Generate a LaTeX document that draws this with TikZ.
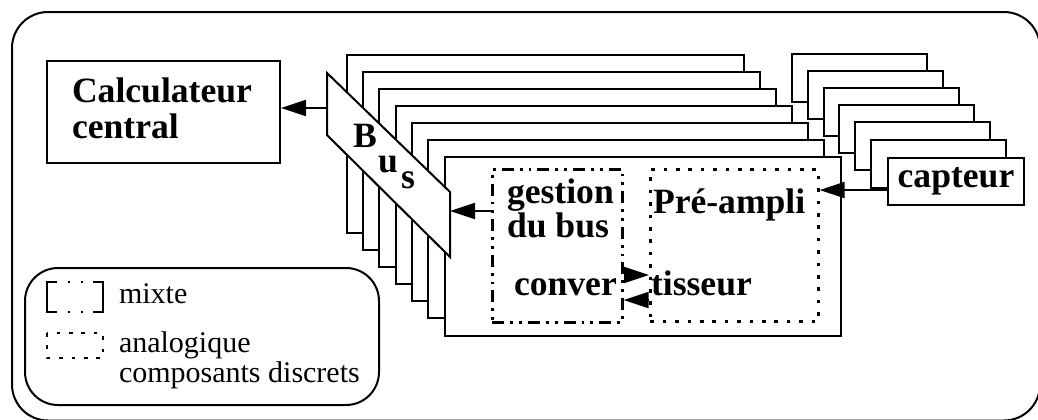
\documentclass[tikz,border=0pt]{standalone}
\usepackage{fontspec}
\setmainfont{Liberation Serif}
\usetikzlibrary{arrows.meta}
\begin{document}
\begin{tikzpicture}[x=0.5pt,y=-0.5pt,
  line width=1pt,
  box/.style={draw,fill=white,line width=1pt},
  arr/.style={-{Triangle[length=12.5pt,width=8pt]},line width=1pt},
  big/.style={font=\fontsize{17.8}{21}\selectfont\bfseries,inner sep=0pt},
  small/.style={font=\fontsize{15}{18}\selectfont,inner sep=0pt},
  mixed/.style={line width=1.3pt,dash pattern=on 6pt off 3pt on 1.4pt off 3pt on 1.4pt off 3pt},
  analog/.style={line width=1.3pt,dash pattern=on 1.8pt off 4.4pt}]

\useasboundingbox (0,0) rectangle (1038,419);

% outer frame, partly cut by the page edge
\begin{scope}
  \clip (0,0) rectangle (1038,419);
  \draw[rounded corners=18pt] (12,12) rectangle (1040,420.5);
\end{scope}

% central computer
\node[box,inner sep=0pt,anchor=north west,minimum width=116.5pt,minimum height=51pt] (calc) at (46,60) {};
\node[big,anchor=base west] (calcA) at (71,102) {Calculateur};
\node[big,anchor=base west] (calcB) at (71,138) {central};

% stack of acquisition modules
\foreach \i in {0,...,5}
  \draw[box] ({347+16.2*\i},{55+16.9*\i}) rectangle ({744+16*\i},{233+17*\i});
\node[box,inner sep=0pt,anchor=north west,minimum width=198pt,minimum height=89.5pt] (module) at (444,156) {};

% bus
\draw[box] (327,73) -- (450,192) -- (450,257) -- (327,135) -- cycle;
\node[big,anchor=base west] (busB) at (352,147) {B};
\node[big,anchor=base west] (busU) at (377,172) {u};
\node[big,anchor=base west] (busS) at (400,188) {s};
\coordinate (busL) at (327,108);
\coordinate (busR) at (450,211);

% stack of sensors
\foreach \i in {0,...,5}
  \draw[box] ({792+15.8*\i},{54+17.1*\i}) rectangle +(135,48);
\node[box,inner sep=0pt,anchor=north west,minimum width=68pt,minimum height=23.5pt,
      font=\fontsize{17.8}{21}\selectfont\bfseries] (capteur) at (887,157) {capteur};
\coordinate (capIn) at (887,190);

% mixed and analog blocks inside the front module
\node[draw,mixed,inner sep=0pt,anchor=north west,minimum width=65pt,minimum height=76.5pt] (mixte) at (491,168) {};
\node[draw,analog,inner sep=0pt,anchor=north west,minimum width=84pt,minimum height=76pt] (analog) at (649,168) {};

\node[big,anchor=base west] (gest) at (506,203) {gestion};
\node[big,anchor=base west] (dubus) at (506,237) {du bus};
\node[big,anchor=base west] (conv) at (513,295) {conver};
\node[big,anchor=base west] (tiss) at (650,295) {tisseur};
\node[big,anchor=base west] (pre) at (652,213) {Pré-ampli};

\coordinate (cA) at (621,275);
\coordinate (cB) at (621,300);

% signal flow
\draw[arr] (busL) -- (calc.east |- busL);
\draw[arr] (mixte.west |- busR) -- (busR);
\draw[arr] (capIn) -- (analog.east |- capIn);
\draw[arr] (mixte.east |- cA) -- (analog.west |- cA);
\draw[arr] (analog.west |- cB) -- (mixte.east |- cB);

% legend
\draw[rounded corners=16.5pt] (25,268) rectangle (379,405);
\draw[line width=1.2pt] (57,282) -- (47,282) -- (47,312) -- (57,312);
\draw[line width=1.2pt] (93,282) -- (103,282) -- (103,312) -- (93,312);
\foreach \x in {69,82} {
  \fill (\x-1.4,280.6) rectangle (\x+1.4,283.4);
  \fill (\x-1.4,310.6) rectangle (\x+1.4,313.4);
}
\draw[analog] (47,333) rectangle (103,358);
\node[small,anchor=base west] (lgMixte) at (118,303) {mixte};
\node[small,anchor=base west] (lgAna) at (118,352) {analogique};
\node[small,anchor=base west] (lgComp) at (118,382) {composants discrets};

\end{tikzpicture}
\end{document}
